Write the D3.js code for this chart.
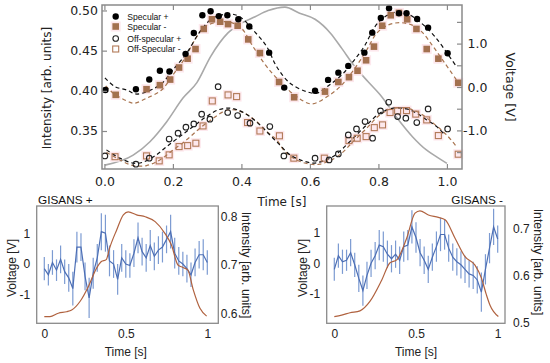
<!DOCTYPE html>
<html>
<head>
<meta charset="utf-8">
<script src="https://cdn.jsdelivr.net/npm/d3@7"></script>
<style>
body{margin:0;background:#fff;}
svg{display:block;}
</style>
</head>
<body>
<svg id="chart" width="550" height="363"></svg>
<script>
/*
 * top panel: intensity vs time, voltage on the right
 */
var specPlusT = [0.003,0.092,0.131,0.162,0.190,0.237,0.261,0.286,0.310,0.334,0.359,0.391,0.423,0.481,0.525,0.615,0.653,0.683,0.712,0.759,0.782,0.807,0.831,0.860,0.882,0.913,0.945,1.002];
var specPlusI = [0.401,0.402,0.414,0.425,0.424,0.446,0.472,0.494,0.499,0.493,0.494,0.489,0.480,0.4475,0.404,0.400,0.4136,0.4226,0.431,0.4475,0.4724,0.4907,0.5027,0.4965,0.4965,0.4894,0.4786,0.4468];

var specMinusT = [0.033,0.123,0.162,0.192,0.218,0.243,0.266,0.290,0.314,0.338,0.361,0.389,0.420,0.454,0.510,0.554,0.644,0.683,0.714,0.739,0.764,0.787,0.811,0.836,0.860,0.884,0.911,0.941,0.975,1.033];
var specMinusI = [0.395,0.402,0.407,0.414,0.429,0.440,0.452,0.477,0.489,0.486,0.483,0.481,0.464,0.447,0.411,0.392,0.399,0.411,0.417,0.425,0.438,0.455,0.481,0.494,0.497,0.489,0.477,0.452,0.440,0.410];

var offPlusT = [0.0015,0.092,0.131,0.189,0.215,0.238,0.261,0.284,0.308,0.332,0.360,0.389,0.425,0.483,0.524,0.615,0.656,0.683,0.712,0.736,0.761,0.783,0.806,0.830,0.856,0.880,0.912,0.945,1.002];
var offPlusI = [0.319,0.3087,0.3162,0.340,0.3473,0.3547,0.3588,0.3709,0.3647,0.4052,0.373,0.3692,0.3597,0.3555,0.319,0.3162,0.314,0.3215,0.3451,0.3526,0.3617,0.341,0.375,0.3858,0.3679,0.3659,0.3605,0.3775,0.3526];

var offMinusT = [0.031,0.123,0.160,0.189,0.218,0.243,0.267,0.288,0.315,0.361,0.386,0.418,0.454,0.511,0.553,0.642,0.714,0.738,0.764,0.788,0.812,0.834,0.856,0.882,0.909,0.941,0.975,1.033];
var offMinusI = [0.318,0.319,0.3128,0.3203,0.3306,0.3318,0.3348,0.3563,0.3874,0.3949,0.3928,0.3605,0.350,0.344,0.3162,0.3162,0.338,0.341,0.343,0.3542,0.3576,0.373,0.375,0.3754,0.371,0.3638,0.3443,0.3211];

// fitted curves
var fitSpecPlusT = [0.0015,0.031,0.065,0.095,0.162,0.2,0.24,0.279,0.317,0.366,0.395,0.434,0.474,0.503,0.542,0.590,0.62,0.653,0.693,0.726,0.761,0.79,0.819,0.858,0.887,0.926,0.965,1.004,1.028];
var fitSpecPlusI = [0.416,0.4052,0.401,0.396,0.4073,0.426,0.4468,0.4736,0.4907,0.4956,0.4923,0.4757,0.455,0.430,0.4095,0.399,0.397,0.406,0.4198,0.4363,0.457,0.480,0.4923,0.4985,0.4956,0.484,0.4674,0.4447,0.430];

var fitSpecMinusT = [0.004,0.026,0.074,0.089,0.123,0.167,0.2,0.235,0.264,0.293,0.342,0.371,0.40,0.434,0.474,0.522,0.561,0.605,0.658,0.693,0.731,0.766,0.795,0.829,0.863,0.897,0.926,0.96,0.994,1.028];
var fitSpecMinusI = [0.406,0.397,0.3858,0.3846,0.3908,0.401,0.4198,0.4405,0.4633,0.4798,0.486,0.4848,0.478,0.455,0.430,0.4073,0.3928,0.3837,0.395,0.4073,0.428,0.4509,0.4716,0.482,0.4848,0.482,0.4736,0.455,0.4343,0.4136];

var fitOffPlusT = [0.006,0.045,0.084,0.113,0.152,0.182,0.22,0.259,0.298,0.332,0.366,0.396,0.425,0.454,0.483,0.512,0.542,0.58,0.61,0.639,0.668,0.697,0.731,0.766,0.804,0.843,0.882,0.912,0.941,0.97,0.994];
var fitOffPlusI = [0.3265,0.3162,0.310,0.3112,0.3203,0.3306,0.343,0.3555,0.3679,0.3762,0.3784,0.375,0.3679,0.3576,0.3451,0.3327,0.3203,0.3128,0.310,0.3128,0.3182,0.3286,0.343,0.3576,0.3721,0.3784,0.3775,0.3721,0.3638,0.3555,0.3451];

var fitOffMinusT = [0.006,0.045,0.084,0.123,0.162,0.201,0.24,0.279,0.318,0.352,0.381,0.41,0.439,0.474,0.503,0.527,0.561,0.6,0.629,0.663,0.693,0.726,0.766,0.804,0.843,0.882,0.921,0.96,0.999,1.028];
var fitOffMinusI = [0.3236,0.314,0.307,0.307,0.314,0.3265,0.339,0.3535,0.366,0.375,0.3762,0.372,0.3638,0.3493,0.339,0.3244,0.314,0.3087,0.3087,0.314,0.3224,0.3368,0.3535,0.370,0.3784,0.3784,0.3721,0.3597,0.3451,0.3306];

var voltT = [0.0015,0.084,0.133,0.182,0.23,0.27,0.31,0.36,0.40,0.44,0.478,0.527,0.57,0.615,0.66,0.693,0.731,0.77,0.805,0.855,0.90,0.94,0.97,1.0];
var voltV = [-1.80,-1.57,-1.26,-0.80,-0.25,0.10,0.70,1.24,1.47,1.62,1.76,1.84,1.70,1.56,1.24,0.89,0.47,0.12,-0.18,-0.72,-1.15,-1.45,-1.61,-1.76];

var timeTicks = [0, 0.2, 0.4, 0.6, 0.8, 1.0];
var intensityTicks = [0.35, 0.40, 0.45, 0.50];
var voltTicks = [-1.5, -1.0, -0.5, 0, 0.5, 1.0, 1.5];
var legendLabels = ['Specular +', 'Specular -', 'Off-specular +', 'Off-Specular -'];

/*
 * bottom panels: GISANS voltage (blue, with error bars) and intensity (brown)
 */
var gisT = [0,0.025,0.05,0.075,0.1,0.125,0.15,0.175,0.2,0.225,0.25,0.275,0.3,0.325,0.35,0.375,0.4,0.425,0.45,0.475,0.5,0.525,0.55,0.575,0.6,0.625,0.65,0.675,0.7,0.725,0.75,0.775,0.8,0.825,0.85,0.875,0.9,0.925,0.95,0.975,1.0];
var gisPlusV = [-0.15,-0.35,0.05,-0.2,0.15,-0.25,-0.45,-0.8,0.55,0.55,-0.4,-1.1,-0.3,0.2,1.05,1.0,0.1,0.0,-0.5,0.2,0.0,-0.05,0.35,0.85,0.4,0.2,0.6,0.25,0.45,0.55,0.8,1.05,0.35,0.1,0.0,-0.15,-0.35,0.05,0.3,0.3,0.05];
var gisPlusErr = [0.38,0.35,0.4,0.35,0.45,0.4,0.45,0.55,0.5,0.45,0.45,0.65,0.5,0.45,0.6,0.6,0.5,0.45,0.5,0.45,0.45,0.4,0.45,0.5,0.45,0.45,0.5,0.45,0.45,0.5,0.45,0.55,0.5,0.45,0.4,0.45,0.4,0.45,0.45,0.5,0.4];
var gisPlusIT = [0,0.035,0.086,0.137,0.168,0.219,0.27,0.32,0.35,0.38,0.40,0.444,0.485,0.515,0.566,0.62,0.68,0.74,0.78,0.82,0.85,0.88,0.914,0.955,0.996];
var gisPlusI = [0.594,0.594,0.601,0.604,0.6075,0.625,0.6555,0.693,0.707,0.711,0.734,0.772,0.803,0.809,0.803,0.799,0.789,0.765,0.741,0.70,0.695,0.69,0.649,0.611,0.595];

var gisMinusV = [-0.2,0.25,0.05,0.1,0.35,-0.05,-0.5,-0.9,-0.4,0.0,0.25,0.6,0.55,0.3,0.15,0.3,0.1,0.55,0.6,1.2,0.85,0.35,0.1,-0.2,0.2,0.55,0.95,0.95,0.5,0.2,0.05,-0.05,-0.2,-0.35,-0.4,-0.55,-0.95,-0.2,0.5,1.2,0.8];
var gisMinusErr = [0.38,0.4,0.4,0.35,0.45,0.4,0.45,0.5,0.45,0.45,0.45,0.5,0.5,0.45,0.45,0.45,0.45,0.5,0.5,0.55,0.5,0.45,0.45,0.45,0.45,0.5,0.55,0.5,0.45,0.45,0.45,0.45,0.45,0.45,0.45,0.45,0.65,0.5,0.5,0.6,0.45];
var gisMinusIT = [0,0.045,0.096,0.157,0.218,0.29,0.341,0.382,0.443,0.494,0.524,0.576,0.637,0.678,0.739,0.80,0.861,0.90,0.93,0.953,1.004];
var gisMinusI = [0.513,0.516,0.521,0.525,0.545,0.59,0.627,0.633,0.679,0.732,0.737,0.728,0.723,0.718,0.679,0.64,0.622,0.595,0.56,0.537,0.513];

var svg = d3.select('#chart');

function zip(a, b){
    var out = [];
    for(var i = 0; i < a.length; i++)
    {
        out.push([a[i], b[i]]);
    }
    return out;
}

// ---------- top chart ----------
var box = {x0:102, x1:462, y0:5, y1:169};
var x = d3.scaleLinear().domain([-0.007, 1.044]).range([box.x0, box.x1]);
var yI = d3.scaleLinear().domain([0.3027, 0.5068]).range([box.y1, box.y0]);
var yV = d3.scaleLinear().domain([-1.889, 1.889]).range([box.y1, box.y0]);

var main = svg.append('g');

main.append('path')
    .datum(zip(voltT, voltV))
    .attr('fill', 'none')
    .attr('stroke', '#a9a9a9')
    .attr('stroke-width', 1.6)
    .attr('d', d3.line().x(function(d){return x(d[0]);}).y(function(d){return yV(d[1]);}).curve(d3.curveMonotoneX));

// pink halos behind the squares
var halos = zip(specMinusT, specMinusI).concat(zip(offMinusT, offMinusI));
main.selectAll('rect.halo')
    .data(halos)
    .enter()
    .append('rect')
    .attr('class', 'halo')
    .attr('x', function(d){return x(d[0]) - 5;})
    .attr('y', function(d){return yI(d[1]) - 5;})
    .attr('width', 10)
    .attr('height', 10)
    .attr('fill', '#fde8ed');

var fitLine = d3.line()
    .x(function(d){return x(d[0]);})
    .y(function(d){return yI(d[1]);})
    .curve(d3.curveCatmullRom);

var fits = [
    {t:fitOffMinusT, v:fitOffMinusI, c:'#a8744f'},
    {t:fitSpecMinusT, v:fitSpecMinusI, c:'#a8744f'},
    {t:fitOffPlusT, v:fitOffPlusI, c:'#111'},
    {t:fitSpecPlusT, v:fitSpecPlusI, c:'#111'}
];
fits.forEach(function(f){
    main.append('path')
        .datum(zip(f.t, f.v))
        .attr('fill', 'none')
        .attr('stroke', f.c)
        .attr('stroke-width', 1.2)
        .attr('stroke-dasharray', '4,3')
        .attr('d', fitLine);
});

main.selectAll('rect.offm')
    .data(zip(offMinusT, offMinusI))
    .enter()
    .append('rect')
    .attr('x', function(d){return x(d[0]) - 3;})
    .attr('y', function(d){return yI(d[1]) - 3;})
    .attr('width', 6)
    .attr('height', 6)
    .attr('fill', 'none')
    .attr('stroke', '#b27a58')
    .attr('stroke-width', 1.1);

main.selectAll('rect.specm')
    .data(zip(specMinusT, specMinusI))
    .enter()
    .append('rect')
    .attr('x', function(d){return x(d[0]) - 3.3;})
    .attr('y', function(d){return yI(d[1]) - 3.3;})
    .attr('width', 6.6)
    .attr('height', 6.6)
    .attr('fill', '#a3714f');

main.selectAll('circle.offp')
    .data(zip(offPlusT, offPlusI))
    .enter()
    .append('circle')
    .attr('cx', function(d){return x(d[0]);})
    .attr('cy', function(d){return yI(d[1]);})
    .attr('r', 2.8)
    .attr('fill', 'none')
    .attr('stroke', '#222')
    .attr('stroke-width', 1.1);

main.selectAll('circle.specp')
    .data(zip(specPlusT, specPlusI))
    .enter()
    .append('circle')
    .attr('cx', function(d){return x(d[0]);})
    .attr('cy', function(d){return yI(d[1]);})
    .attr('r', 3.2)
    .attr('fill', '#000');

// frame
main.append('rect')
    .attr('x', box.x0).attr('y', box.y0)
    .attr('width', box.x1 - box.x0).attr('height', box.y1 - box.y0)
    .attr('fill', 'none').attr('stroke', '#8a8a8a').attr('stroke-width', 1.5);

function styleAxis(g, font, size){
    g.select('.domain').remove();
    g.attr('font-family', font).attr('font-size', size);
    g.selectAll('line').attr('stroke', '#8a8a8a').attr('stroke-width', 1.2);
    g.selectAll('text').attr('fill', '#222');
}

var topFont = '"DejaVu Sans", sans-serif';

var gx = main.append('g').attr('transform', 'translate(0,' + box.y1 + ')')
    .call(d3.axisBottom(x).tickValues(timeTicks).tickSize(-5).tickPadding(8)
        .tickFormat(function(d){return d.toFixed(1);}));
styleAxis(gx, topFont, 12.5);

var gxt = main.append('g').attr('transform', 'translate(0,' + box.y0 + ')')
    .call(d3.axisTop(x).tickValues(timeTicks).tickSize(-5).tickFormat(''));
styleAxis(gxt, topFont, 12.5);

var gy = main.append('g').attr('transform', 'translate(' + box.x0 + ',0)')
    .call(d3.axisLeft(yI).tickValues(intensityTicks).tickSize(-5).tickPadding(4)
        .tickFormat(function(d){return d.toFixed(2);}));
styleAxis(gy, topFont, 12.5);

var gv = main.append('g').attr('transform', 'translate(' + box.x1 + ',0)')
    .call(d3.axisRight(yV).tickValues(voltTicks).tickSize(-5)
        .tickFormat(function(d){return (d % 1 === 0) ? d.toFixed(1) : '';}));
styleAxis(gv, topFont, 12.5);
gv.selectAll('text').attr('text-anchor', 'end').attr('x', 25.5);

main.append('text')
    .attr('transform', 'translate(47,88) rotate(-90)')
    .attr('text-anchor', 'middle').attr('dy', '0.35em')
    .attr('font-family', topFont).attr('font-size', 12)
    .attr('fill', '#222')
    .text('Intensity [arb. units]');

main.append('text')
    .attr('transform', 'translate(510,87) rotate(90)')
    .attr('text-anchor', 'middle').attr('dy', '0.35em')
    .attr('font-family', topFont).attr('font-size', 12.5)
    .attr('fill', '#222')
    .text('Voltage [V]');

main.append('text')
    .attr('x', 282).attr('y', 202)
    .attr('text-anchor', 'middle').attr('dy', '0.35em')
    .attr('font-family', topFont).attr('font-size', 12)
    .attr('fill', '#222')
    .text('Time [s]');

// legend
var legY = [16.5, 26.5, 38.5, 49];
var leg = main.append('g');
leg.append('circle').attr('cx', 115.7).attr('cy', legY[0]).attr('r', 3.2).attr('fill', '#000');
leg.append('rect').attr('x', 110.7).attr('y', legY[1] - 5).attr('width', 10).attr('height', 10).attr('fill', '#fde8ed');
leg.append('rect').attr('x', 112.4).attr('y', legY[1] - 3.3).attr('width', 6.6).attr('height', 6.6).attr('fill', '#a3714f');
leg.append('circle').attr('cx', 115.7).attr('cy', legY[2]).attr('r', 2.8).attr('fill', 'none').attr('stroke', '#222').attr('stroke-width', 1.1);
leg.append('rect').attr('x', 112.7).attr('y', legY[3] - 3).attr('width', 6).attr('height', 6).attr('fill', 'none').attr('stroke', '#b27a58').attr('stroke-width', 1.1);
leg.selectAll('text')
    .data(legendLabels)
    .enter()
    .append('text')
    .attr('x', 127.3)
    .attr('y', function(d, i){return legY[i];})
    .attr('dy', '0.35em')
    .attr('font-family', '"Liberation Sans", Arial, sans-serif')
    .attr('font-size', 8.6)
    .attr('fill', '#111')
    .text(function(d){return d;});

// ---------- bottom panels ----------
var panelFont = '"Liberation Sans", Arial, sans-serif';

function drawPanel(p){
    var g = svg.append('g');
    var px = d3.scaleLinear().domain(p.tDom).range([p.x0, p.x1]);
    var pv = d3.scaleLinear().domain(p.vDom).range([p.y1, p.y0]);
    var pi = d3.scaleLinear().domain(p.iDom).range([p.y1, p.y0]);

    var pts = [];
    for(var i = 0; i < p.t.length; i++)
    {
        pts.push({t:p.t[i], v:p.v[i], e:p.err[i]});
    }

    g.selectAll('line.err')
        .data(pts)
        .enter()
        .append('line')
        .attr('x1', function(d){return px(d.t);})
        .attr('x2', function(d){return px(d.t);})
        .attr('y1', function(d){return pv(d.v - d.e);})
        .attr('y2', function(d){return pv(d.v + d.e);})
        .attr('stroke', '#7c9bd2')
        .attr('stroke-width', 1.2);

    g.append('path')
        .datum(pts)
        .attr('fill', 'none')
        .attr('stroke', '#4d6fb5')
        .attr('stroke-width', 1.2)
        .attr('d', d3.line().x(function(d){return px(d.t);}).y(function(d){return pv(d.v);}));

    g.append('path')
        .datum(zip(p.it, p.iv))
        .attr('fill', 'none')
        .attr('stroke', '#b0623f')
        .attr('stroke-width', 1.2)
        .attr('d', d3.line().x(function(d){return px(d[0]);}).y(function(d){return pi(d[1]);}).curve(d3.curveMonotoneX));

    g.append('rect')
        .attr('x', p.x0).attr('y', p.y0)
        .attr('width', p.x1 - p.x0).attr('height', p.y1 - p.y0)
        .attr('fill', 'none').attr('stroke', '#8a8a8a').attr('stroke-width', 1.3);

    var ax = g.append('g').attr('transform', 'translate(0,' + p.y1 + ')')
        .call(d3.axisBottom(px).tickValues([0, 0.5, 1]).tickSize(0).tickPadding(6)
            .tickFormat(function(d){return String(d);}));
    styleAxis(ax, panelFont, 12);

    var av = g.append('g').attr('transform', 'translate(' + p.x0 + ',0)')
        .call(d3.axisLeft(pv).tickValues([-1, 0, 1]).tickSize(0).tickPadding(6.5)
            .tickFormat(function(d){return d < 0 ? '-' + Math.abs(d) : String(d);}));
    styleAxis(av, panelFont, 12);

    var ai = g.append('g').attr('transform', 'translate(' + p.x1 + ',0)')
        .call(d3.axisRight(pi).tickValues(p.iTicks).tickSize(0).tickPadding(p.iPad)
            .tickFormat(function(d){return d.toFixed(1);}));
    styleAxis(ai, panelFont, 12);

    g.append('text')
        .attr('transform', 'translate(' + p.vLabelX + ',268) rotate(-90)')
        .attr('text-anchor', 'middle').attr('dy', '0.35em')
        .attr('font-family', panelFont).attr('font-size', 12).attr('fill', '#222')
        .text('Voltage [V]');

    g.append('text')
        .attr('transform', 'translate(' + p.iLabelX + ',' + p.iLabelY + ') rotate(90)')
        .attr('text-anchor', 'middle').attr('dy', '0.35em')
        .attr('font-family', panelFont).attr('font-size', 12.3).attr('fill', '#222')
        .text('Intensity [arb. units]');

    g.append('text')
        .attr('x', px(0.5)).attr('y', 351.5)
        .attr('text-anchor', 'middle').attr('dy', '0.35em')
        .attr('font-family', panelFont).attr('font-size', 12).attr('fill', '#222')
        .text('Time [s]');

    g.append('text')
        .attr('x', p.titleX).attr('y', 200)
        .attr('text-anchor', p.titleAnchor).attr('dy', '0.35em')
        .attr('font-family', panelFont).attr('font-size', 11.8).attr('fill', '#111')
        .text(p.title);
}

drawPanel({
    x0:36.7, x1:218.3, y0:206, y1:323.3,
    tDom:[-0.0466, 1.0675], vDom:[-1.925, 1.883], iDom:[0.5803, 0.8211],
    t:gisT, v:gisPlusV, err:gisPlusErr, it:gisPlusIT, iv:gisPlusI,
    iTicks:[0.6, 0.7, 0.8], iPad:2.5,
    vLabelX:12, iLabelX:246.7, iLabelY:265,
    title:'GISANS +', titleX:38, titleAnchor:'start'
});

drawPanel({
    x0:326.7, x1:505, y0:206, y1:323.3,
    tDom:[-0.0465, 1.0447], vDom:[-1.98, 1.89], iDom:[0.4987, 0.7472],
    t:gisT, v:gisMinusV, err:gisMinusErr, it:gisMinusIT, iv:gisMinusI,
    iTicks:[0.5, 0.6, 0.7], iPad:8,
    vLabelX:303, iLabelX:538, iLabelY:262,
    title:'GISANS -', titleX:503, titleAnchor:'end'
});
</script>
</body>
</html>
